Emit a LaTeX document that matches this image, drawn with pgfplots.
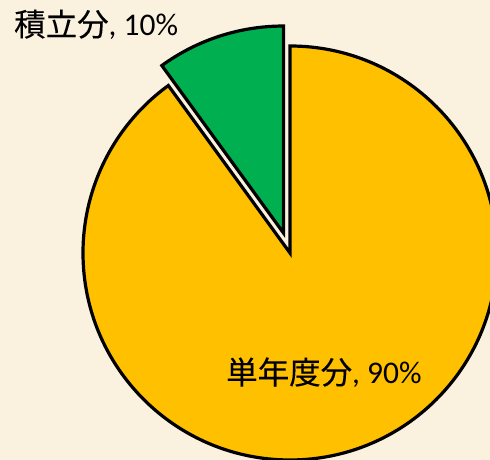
\documentclass[border=0pt]{standalone}
\usepackage{pgfplots}
\pgfplotsset{compat=1.18}
\usepackage{pgfplotstable}
\usepackage{fontspec}
\setmainfont{Carlito}
\newfontfamily\cjk[FakeBold=0.15]{Noto Sans CJK JP}
\definecolor{bg}{RGB}{250,241,222}
\definecolor{pieyellow}{RGB}{255,192,0}
\definecolor{piegreen}{RGB}{0,176,80}
\pgfplotstableread{
value
10
90
}\piedata
\pgfplotstablegetelem{0}{value}\of\piedata \let\vA\pgfplotsretval
\pgfplotstablegetelem{1}{value}\of\piedata \let\vB\pgfplotsretval
\pgfmathsetmacro\endB{90-3.6*\vB}
\pgfmathsetmacro\endA{\endB-3.6*\vA}
\pgfmathsetmacro\midA{(\endB+\endA)/2}
\begin{document}
\begin{tikzpicture}
\useasboundingbox (0,0) rectangle (490pt,460pt);
\fill[bg] (0,0) rectangle (490pt,460pt);
\clip (0,0) rectangle (490pt,460pt);
\begin{axis}[x=1pt,y=1pt,xmin=0,xmax=490,ymin=0,ymax=460,hide axis,
  scale only axis,at={(0pt,0pt)},anchor=south west,clip=false]
\filldraw[fill=pieyellow,draw=black,line width=3.2pt,line join=miter]
  (axis cs:290,207) -- ++(90:207pt) arc[start angle=90,end angle=\endB,radius=207pt] -- cycle;
\filldraw[fill=piegreen,draw=black,line width=3.2pt,line join=miter]
  ([shift={(\midA:21pt)}]axis cs:290,207) -- ++(\endB:207pt) arc[start angle=\endB,end angle=\endA,radius=207pt] -- cycle;
\node[anchor=base west,inner sep=0pt,font=\fontsize{31.5}{36}\selectfont] at (axis cs:14,424) {{\cjk 積立分}, 10\%};
\node[anchor=base west,inner sep=0pt,font=\fontsize{31.5}{36}\selectfont] at (axis cs:226,76) {{\cjk 単年度分}, 90\%};
\end{axis}
\end{tikzpicture}
\end{document}
